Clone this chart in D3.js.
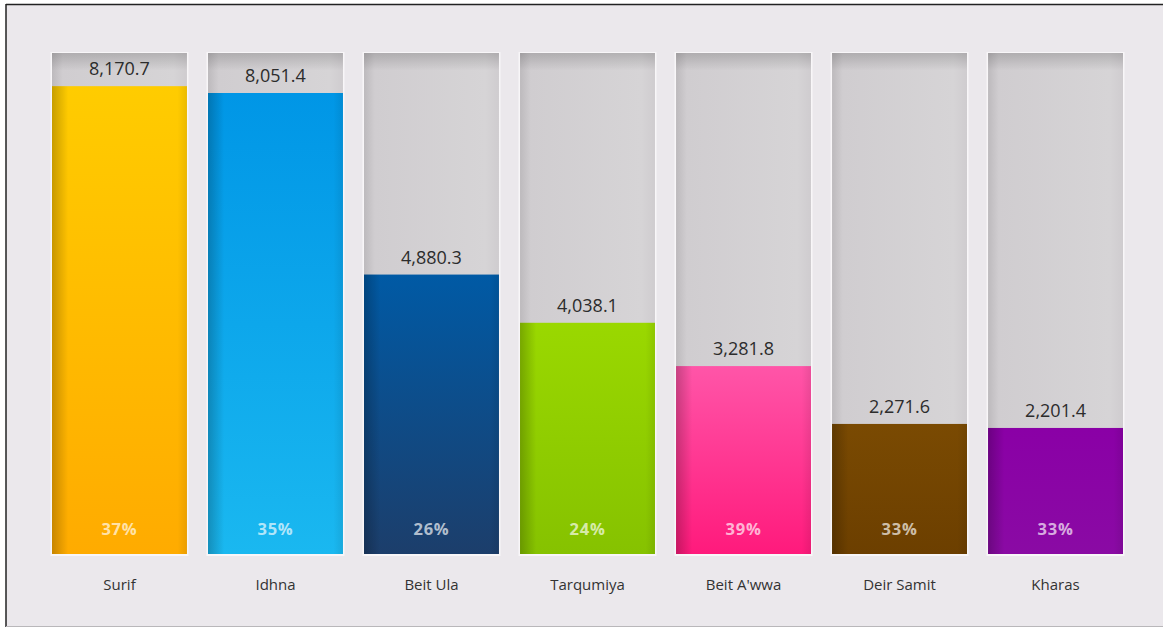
<!DOCTYPE html>
<html>
<head>
<meta charset="utf-8">
<script src="https://cdn.jsdelivr.net/npm/d3@7"></script>
<style>
  html, body { margin: 0; padding: 0; background: #ffffff; }
  svg { display: block; }
</style>
</head>
<body>
<svg id="chart" width="1163" height="628"></svg>
<script>
// Town names, values and shares
const towns = ["Surif", "Idhna", "Beit Ula", "Tarqumiya", "Beit A'wwa", "Deir Samit", "Kharas"];
const values = [8170.7, 8051.4, 4880.3, 4038.1, 3281.8, 2271.6, 2201.4];
const shares = ["37%", "35%", "26%", "24%", "39%", "33%", "33%"];
// top / bottom colour of each bar
const topColors = ["#ffcc00", "#0096e6", "#005aa5", "#9ad800", "#ff55a8", "#7a4a02", "#8a00a6"];
const bottomColors = ["#ffab00", "#1ab8f0", "#1c3e6b", "#86c200", "#ff1a7c", "#6c3f00", "#8a0aa4"];

const W = 1163, H = 628;
const svg = d3.select("#chart");

// page background with frame
svg.append("rect").attr("x", 0).attr("y", 0).attr("width", W).attr("height", H).attr("fill", "#ffffff");
svg.append("rect").attr("x", 6).attr("y", 4).attr("width", W - 6).attr("height", 622)
  .attr("fill", "#ebe8ec");
svg.append("line").attr("x1", 6).attr("x2", W).attr("y1", 4.5).attr("y2", 4.5)
  .attr("stroke", "#222").attr("stroke-width", 1.5);
svg.append("line").attr("x1", 6).attr("x2", 6).attr("y1", 4).attr("y2", 627)
  .attr("stroke", "#222").attr("stroke-width", 1.5);
svg.append("line").attr("x1", 6).attr("x2", W).attr("y1", 626.5).attr("y2", 626.5)
  .attr("stroke", "#b9b7ba").attr("stroke-width", 1);

const x = d3.scaleBand().domain(towns).range([52, 1123]).paddingInner(0.135).paddingOuter(0);
const y = d3.scaleLinear().domain([0, 8750]).range([554, 53]);

const defs = svg.append("defs");

// track shading: darker at the left edge and top
const trackH = defs.append("linearGradient").attr("id", "trackH").attr("x1", 0).attr("x2", 1).attr("y1", 0).attr("y2", 0);
trackH.append("stop").attr("offset", "0").attr("stop-color", "#bdbabd");
trackH.append("stop").attr("offset", "0.08").attr("stop-color", "#d0cdd0");
trackH.append("stop").attr("offset", "0.9").attr("stop-color", "#d6d4d6");
trackH.append("stop").attr("offset", "1").attr("stop-color", "#cfcccf");
const trackV = defs.append("linearGradient").attr("id", "trackV").attr("x1", 0).attr("x2", 0).attr("y1", 0).attr("y2", 1);
trackV.append("stop").attr("offset", "0").attr("stop-color", "#000").attr("stop-opacity", 0.16);
trackV.append("stop").attr("offset", "0.035").attr("stop-color", "#000").attr("stop-opacity", 0);
trackV.append("stop").attr("offset", "1").attr("stop-color", "#000").attr("stop-opacity", 0);

// left-edge shadow for the coloured bars
const edge = defs.append("linearGradient").attr("id", "edge").attr("x1", 0).attr("x2", 1).attr("y1", 0).attr("y2", 0);
edge.append("stop").attr("offset", "0").attr("stop-color", "#000").attr("stop-opacity", 0.22);
edge.append("stop").attr("offset", "0.12").attr("stop-color", "#000").attr("stop-opacity", 0.0);
edge.append("stop").attr("offset", "0.93").attr("stop-color", "#000").attr("stop-opacity", 0.0);
edge.append("stop").attr("offset", "1").attr("stop-color", "#000").attr("stop-opacity", 0.08);

towns.forEach((t, i) => {
  const g = defs.append("linearGradient").attr("id", "bar" + i)
    .attr("x1", 0).attr("x2", 0).attr("y1", 0).attr("y2", 1);
  g.append("stop").attr("offset", "0").attr("stop-color", topColors[i]);
  g.append("stop").attr("offset", "1").attr("stop-color", bottomColors[i]);
});

const bw = x.bandwidth();

const col = svg.selectAll("g.col").data(towns).join("g").attr("class", "col");

// light glow around each column
col.append("rect")
  .attr("x", d => x(d) - 1.5).attr("y", y.range()[1] - 1)
  .attr("width", bw + 3).attr("height", y(0) - y.range()[1] + 3)
  .attr("fill", "#f8f6f8");

// grey track
col.append("rect")
  .attr("x", d => x(d)).attr("y", y.range()[1])
  .attr("width", bw).attr("height", y(0) - y.range()[1])
  .attr("fill", "url(#trackH)");
col.append("rect")
  .attr("x", d => x(d)).attr("y", y.range()[1])
  .attr("width", bw).attr("height", y(0) - y.range()[1])
  .attr("fill", "url(#trackV)");

// value bars
col.append("rect")
  .attr("x", d => x(d)).attr("y", (d, i) => y(values[i]))
  .attr("width", bw).attr("height", (d, i) => y(0) - y(values[i]))
  .attr("fill", (d, i) => `url(#bar${i})`);
col.append("rect")
  .attr("x", d => x(d)).attr("y", (d, i) => y(values[i]))
  .attr("width", bw).attr("height", (d, i) => y(0) - y(values[i]))
  .attr("fill", "url(#edge)");

// value labels above bars
const fmt = d3.format(",.1f");
col.append("text")
  .attr("x", d => x(d) + bw / 2).attr("y", (d, i) => y(values[i]) - 11)
  .attr("text-anchor", "middle")
  .attr("font-family", "'Open Sans', sans-serif").attr("font-size", 18)
  .attr("fill", "#2c2c2c")
  .text((d, i) => fmt(values[i]));

// share labels inside the bars
col.append("text")
  .attr("x", d => x(d) + bw / 2).attr("y", 535)
  .attr("text-anchor", "middle")
  .attr("font-family", "'Open Sans', sans-serif").attr("font-size", 16.5).attr("font-weight", 700)
  .attr("letter-spacing", 0.8)
  .attr("fill", "#ffffff").attr("fill-opacity", 0.68)
  .text((d, i) => shares[i]);

// town names
const xAxis = d3.axisBottom(x).tickSize(0).tickPadding(0);
const ax = svg.append("g").attr("transform", "translate(0,580)").call(xAxis);
ax.select(".domain").remove();
ax.selectAll("text")
  .attr("dy", "0.32em").attr("y", 5)
  .attr("font-family", "'Open Sans', sans-serif").attr("font-size", 15)
  .attr("fill", "#333");
</script>
</body>
</html>
